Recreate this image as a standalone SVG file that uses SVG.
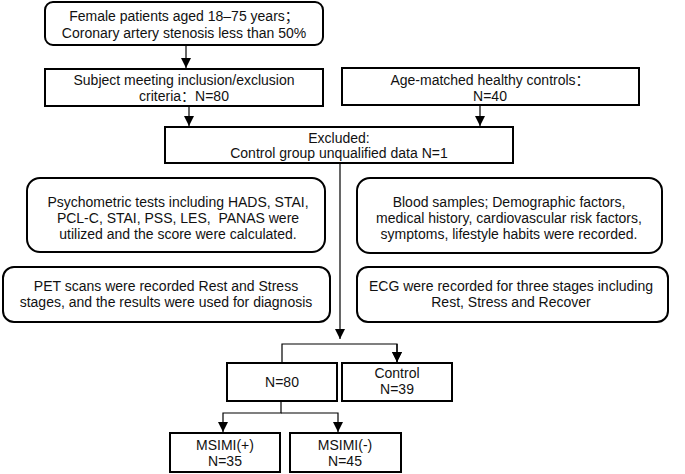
<svg xmlns="http://www.w3.org/2000/svg" width="685" height="474" viewBox="0 0 685 474">
<defs>
<marker id="ah" viewBox="0 0 10 10" refX="10" refY="5" markerWidth="10" markerHeight="10" markerUnits="userSpaceOnUse" orient="auto">
<path d="M0,0 L10,5 L0,10 Z" fill="#000"/>
</marker>
<style>
.b{fill:#fff;stroke:#000;stroke-width:2}
.c{fill:none;stroke:#000;stroke-width:1.2}
text{font-family:"Liberation Sans",Arial,"Noto Sans CJK SC",sans-serif;font-size:14px;fill:#111;text-anchor:middle}
</style>
</defs>
<rect width="685" height="474" fill="#fff"/>
<g id="connectors">
<path class="c" d="M186,45 V68" marker-end="url(#ah)"/>
<path class="c" d="M189,107 V126" marker-end="url(#ah)"/>
<path class="c" d="M480,105 V126" marker-end="url(#ah)"/>
<path class="c" d="M340,164 V339" marker-end="url(#ah)"/>
<path class="c" d="M282,362 V344 H397 V362" marker-end="url(#ah)"/>
<path class="c" d="M397,344 V362" marker-end="url(#ah)"/>
<path class="c" d="M281,402 V413 H223 V432" marker-end="url(#ah)"/>
<path class="c" d="M281,413 H338 V432" marker-end="url(#ah)"/>
</g>
<g id="n1">
<rect class="b" x="45" y="2" width="278" height="43" rx="8"/>
<text x="184" y="21">Female patients aged 18–75 years；</text>
<text x="184" y="38">Coronary artery stenosis less than 50%</text>
</g>
<g id="n2">
<rect class="b" x="45" y="69" width="278" height="37"/>
<text x="184" y="85">Subject meeting inclusion/exclusion</text>
<text x="184" y="101">criteria：N=80</text>
</g>
<g id="n3">
<rect class="b" x="342" y="68" width="297" height="37"/>
<text x="490" y="85">Age-matched healthy controls：</text>
<text x="490" y="101">N=40</text>
</g>
<g id="n4">
<rect class="b" x="165" y="127" width="348" height="36"/>
<text x="339" y="143">Excluded:</text>
<text x="339" y="158">Control group unqualified data N=1</text>
</g>
<g id="n5">
<rect class="b" x="27" y="178" width="298" height="74" rx="13"/>
<text x="178" y="207">Psychometric tests including HADS, STAI,</text>
<text x="178" y="223" xml:space="preserve">PCL-C, STAI, PSS, LES,  PANAS were</text>
<text x="178" y="239">utilized and the score were calculated.</text>
</g>
<g id="n6">
<rect class="b" x="357" y="178" width="305" height="75" rx="13"/>
<text x="509" y="207">Blood samples; Demographic factors,</text>
<text x="509" y="223">medical history, cardiovascular risk factors,</text>
<text x="509" y="239">symptoms, lifestyle habits were recorded.</text>
</g>
<g id="n7">
<rect class="b" x="3" y="267" width="327" height="55" rx="11"/>
<text x="166" y="291">PET scans were recorded Rest and Stress</text>
<text x="166" y="307">stages, and the results were used for diagnosis</text>
</g>
<g id="n8">
<rect class="b" x="357" y="267" width="311" height="55" rx="11"/>
<text x="511" y="291">ECG were recorded for three stages including</text>
<text x="511" y="307">Rest, Stress and Recover</text>
</g>
<g id="n9">
<rect class="b" x="227" y="363" width="110" height="38"/>
<text x="282" y="387">N=80</text>
</g>
<g id="n10">
<rect class="b" x="342" y="363" width="110" height="38"/>
<text x="397" y="378">Control</text>
<text x="397" y="394">N=39</text>
</g>
<g id="n11">
<rect class="b" x="170" y="433" width="110" height="39"/>
<text x="225" y="450">MSIMI(+)</text>
<text x="225" y="466">N=35</text>
</g>
<g id="n12">
<rect class="b" x="290" y="433" width="111" height="39"/>
<text x="345" y="450">MSIMI(-)</text>
<text x="345" y="466">N=45</text>
</g>
</svg>
